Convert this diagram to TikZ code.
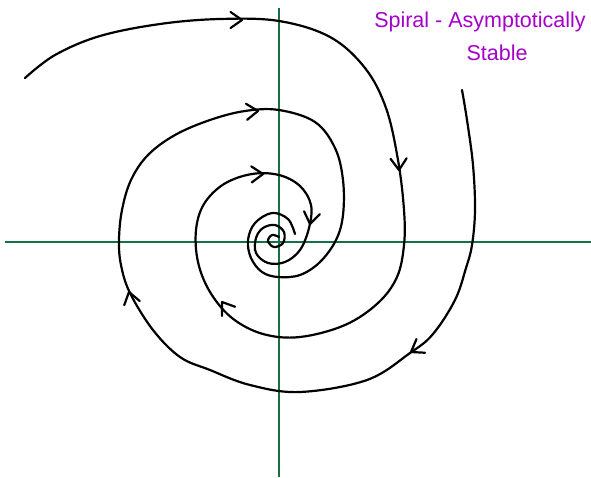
\documentclass[tikz,border=0pt]{standalone}
\usepackage{fontspec}
\setmainfont{Liberation Sans}
\usetikzlibrary{calc}

\definecolor{axisgreen}{RGB}{20,112,70}
\definecolor{inkpurple}{RGB}{165,0,200}

\tikzset{
  axis/.style={line width=1.6pt, axisgreen},
  spiral/.style={line width=2.2pt, black, line cap=round, line join=round},
  label/.style={text=inkpurple, font=\fontsize{21.5}{24}\selectfont, inner sep=0pt}
}

% V-shaped hand arrow: tip, direction of travel
\newcommand{\barbat}[2]{%
  \draw[spiral] ($(#1)+(#2+145:14pt)$) -- (#1) -- ($(#1)+(#2-145:14pt)$);}

\begin{document}
\begin{tikzpicture}[x=1pt, y=-1pt]
    \useasboundingbox (0,0) rectangle (591,477);

    % Axes
    \coordinate (xl) at (5,242);
    \coordinate (xr) at (591,242);
    \coordinate (yt) at (279,8);
    \coordinate (yb) at (279,477);
    \draw[axis] (xl) -- (xr);
    \draw[axis] (yt) -- (yb);

    % First arm, starting at the upper left
    \draw[spiral] plot[smooth, tension=0.6] coordinates {
      (25,78) (55,55) (100,36) (160,24) (220,19) (279,21) (330,37)
      (365,68) (386,108) (398,160) (404,210) (404,245) (397,277)
      (378,303) (345,325) (300,337) (263,334) (232,318) (210,292)
      (198,262) (196,230) (204,204) (224,184) (252,174) (279,175)
      (300,186) (311,205) (309,228) (300,250) (285,262) (268,263)
      (256,253) (256,238) (263,228) (275,225) (284,232) (283,243)
      (274,247) (268,241) (272,235) (279,237)};

    % Second arm, starting at the upper right
    \draw[spiral] plot[smooth, tension=0.6] coordinates {
      (462,90) (467,120) (473,165) (475,210) (472,245) (466,268)
      (455,300) (433,334) (410,353) (367,380) (300,392) (250,385)
      (210,370) (180,357) (153,330) (130,293) (121,265) (119,240)
      (122,210) (131,180) (148,155) (175,135) (210,120) (245,111)
      (279,110) (315,122) (335,148) (343,180) (343,215) (336,240)
      (320,262) (300,275) (278,277) (262,272) (251,258) (248,240)
      (255,223) (272,213) (288,219) (295,234)};

    % Arrow tips along the arms
    \coordinate (a1) at (242,20);
    \coordinate (a2) at (258,111);
    \coordinate (a3) at (263,174);
    \coordinate (a4) at (399,170);
    \coordinate (a5) at (310,224);
    \coordinate (a6) at (411,352);
    \coordinate (a7) at (129,292);
    \coordinate (a8) at (222,302);
    \barbat{a1}{0}
    \barbat{a2}{4}
    \barbat{a3}{2}
    \barbat{a4}{-88}
    \barbat{a5}{-100}
    \barbat{a6}{-148}
    \barbat{a7}{105}
    \barbat{a8}{125}

    % Title
    \node[label] (title1) at (480,22) {Spiral - Asymptotically};
    \node[label] (title2) at (497,53) {Stable};
\end{tikzpicture}
\end{document}
